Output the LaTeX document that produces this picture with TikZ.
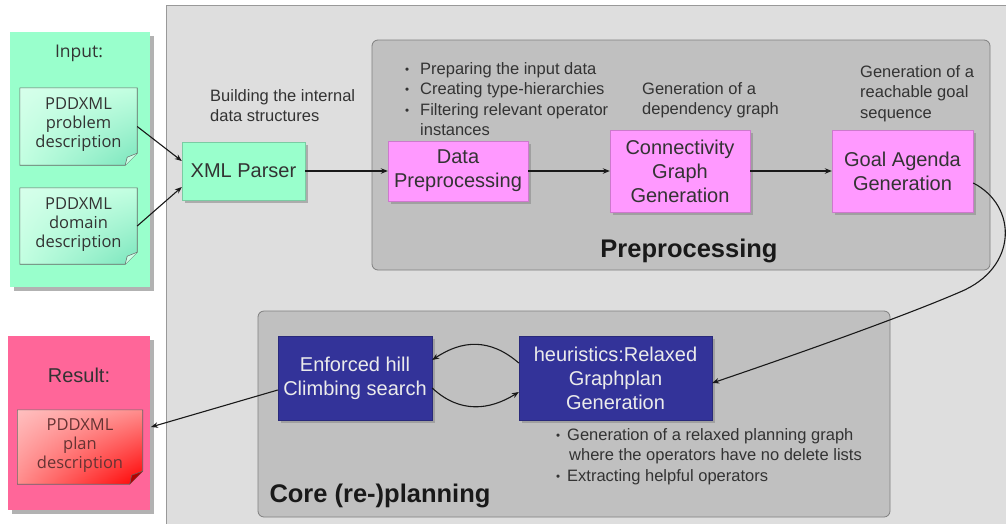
\documentclass[tikz,border=0pt]{standalone}
\usepackage{fontspec}
\setmainfont{Liberation Sans}
\newfontfamily\docfont{Open Sans}
\usetikzlibrary{arrows.meta,shadows,shadings}
\definecolor{outerbg}{HTML}{DEDEDE}
\definecolor{panelbg}{HTML}{C0C0C0}
\definecolor{panelbd}{HTML}{7F7F7F}
\definecolor{mint}{HTML}{99FFCC}
\definecolor{pinkbox}{HTML}{FF99FF}
\definecolor{navy}{HTML}{333399}
\definecolor{resultbg}{HTML}{FF6699}
\definecolor{txt}{HTML}{333333}
\tikzset{
  panel/.style={draw=panelbd, fill=panelbg, rounded corners=6pt, line width=0.8pt},
  procbox/.style={fill=pinkbox, draw=pinkbox!80!black, line width=0.4pt, text=txt, align=center,
    font=\fontsize{20}{24}\selectfont, inner sep=0pt,
    drop shadow={shadow xshift=2.5pt, shadow yshift=-2.5pt, fill=black!45, opacity=0.6}},
  parserbox/.style={procbox, fill=mint, draw=mint!80!black},
  corebox/.style={procbox, fill=navy, draw=navy!80!black, text=white!92!black},
  note/.style={anchor=north west, inner sep=0pt, align=left, text=txt,
    font=\fontsize{16.5}{20.5}\selectfont},
  doc/.style={inner sep=0pt, align=center, text=txt, font=\docfont\fontsize{16.5}{19}\selectfont},
  arr/.style={-{Stealth[length=7pt,width=5.5pt]}, line width=1.1pt, black!90},
}
\newcommand{\bul}{\makebox[15pt][l]{\raisebox{1pt}{\scalebox{0.7}{\textbullet}}}}
\begin{document}
\begin{tikzpicture}[x=1pt,y=-1pt]
\useasboundingbox (0,0) rectangle (1006,523);
\fill[white] (0,0) rectangle (1006,523);
% outer panel
\draw[fill=outerbg, draw=black!40, line width=1pt] (166,5) rectangle (1012,530);
% Input panel
\fill[black!30] (14,36) rectangle (154,291);
\node[fill=mint, minimum width=140pt, minimum height=255pt, inner sep=0pt] (input) at (80,159.5) {};
\node[text=txt, font=\docfont\fontsize{17.5}{20}\selectfont] (inlabel) at (79,53) {Input:};
% docs
\node[doc, minimum width=117pt, minimum height=77pt] (prob) at (78.5,126.5) {};
\node[doc, minimum width=117pt, minimum height=76pt] (dom) at (78.5,226) {};
% Result panel
\fill[black!30] (12,340) rectangle (154,514);
\node[fill=resultbg, minimum width=142pt, minimum height=174pt, inner sep=0pt] (result) at (79,423) {};
\node[text=txt, font=\fontsize{20}{24}\selectfont] (reslabel) at (79,375) {Result:};
\node[doc, minimum width=125pt, minimum height=74pt] (plan) at (80,447) {};
% doc shapes
\foreach \d in {prob, dom} {
  \shade[upper left=white!60!mint, upper right=white!40!mint, lower left=white!40!mint, lower right=mint!80!teal]
    (\d.north west) -- (\d.north east) -- ([yshift=12pt]\d.south east) -- ([xshift=-12pt]\d.south east) -- (\d.south west) -- cycle;
  \draw[black!60, line width=0.6pt]
    (\d.north west) -- (\d.north east) -- ([yshift=12pt]\d.south east) -- ([xshift=-12pt]\d.south east) -- (\d.south west) -- cycle;
  \draw[black!60, fill=white!50!mint, line width=0.5pt] ([yshift=12pt]\d.south east) -- ([xshift=-10pt,yshift=8pt]\d.south east) -- ([xshift=-12pt]\d.south east);
}
\node[doc] at ([yshift=1.5pt]prob) {PDDXML\\problem\\description};
\node[doc] at ([yshift=1.5pt]dom) {PDDXML\\domain\\description};
\shade[upper left=red!25!white, upper right=red!45!white, lower left=red!45!white, lower right=red]
  (plan.north west) -- (plan.north east) -- ([yshift=13pt]plan.south east) -- ([xshift=-13pt]plan.south east) -- (plan.south west) -- cycle;
\draw[black!60, line width=0.6pt]
  (plan.north west) -- (plan.north east) -- ([yshift=13pt]plan.south east) -- ([xshift=-13pt]plan.south east) -- (plan.south west) -- cycle;
\draw[black!60, fill=red!70!black, line width=0.5pt] ([yshift=13pt]plan.south east) -- ([xshift=-11pt,yshift=9pt]plan.south east) -- ([xshift=-13pt]plan.south east);
\node[doc, text=red!25!black!80] at ([yshift=1.5pt]plan) {PDDXML\\plan\\description};
% Panels
\draw[panel] (372,40) rectangle (990,270);
\node[font=\bfseries\fontsize{25.5}{30}\selectfont, text=black!90] (prelabel) at (689,251) {Preprocessing};
\draw[panel] (258,311) rectangle (890,517);
\node[font=\bfseries\fontsize{25.5}{30}\selectfont, text=black!90] (corelabel) at (380,496) {Core (re-)planning};
% Boxes
\node[parserbox, minimum width=123pt, minimum height=58pt] (xml) at (243.5,171) {XML Parser};
\node[procbox, minimum width=140pt, minimum height=60pt] (data) at (458,171) {Data\\Preprocessing};
\node[procbox, minimum width=140pt, minimum height=82pt] (conn) at (680,171) {Connectivity\\Graph\\Generation};
\node[procbox, minimum width=141pt, minimum height=82pt] (goal) at (902.5,171) {Goal Agenda\\Generation};
\node[corebox, minimum width=154pt, minimum height=84pt] (ehc) at (355,378) {Enforced hill\\Climbing search};
\node[corebox, minimum width=193pt, minimum height=84pt] (heur) at (615.5,378) {heuristics:Relaxed\\Graphplan\\Generation};
% Notes
\node[note] (n1) at (210,89.3) {Building the internal\\data structures};
\node[note] (n2) at (405,62.3) {\bul Preparing the input data\\\bul Creating type-hierarchies\\\bul Filtering relevant operator\\\hspace*{15pt}instances};
\node[note] (n3) at (642,82.3) {Generation of a\\dependency graph};
\node[note] (n4) at (860,65.3) {Generation of a\\reachable goal\\sequence};
\node[note] (n5) at (556,428.3) {\makebox[11pt][l]{\raisebox{1pt}{\scalebox{0.7}{\textbullet}}}Generation of a relaxed planning graph\\\hspace*{13pt}where the operators have no delete lists\\\makebox[11pt][l]{\raisebox{1pt}{\scalebox{0.7}{\textbullet}}}Extracting helpful operators};
% Connectors
\draw[arr] (prob.east) -- ([yshift=10pt]xml.west);
\draw[arr] (dom.east) -- ([yshift=-16pt]xml.west);
\draw[arr] (xml.east) -- (data.west);
\draw[arr] (data.east) -- (conn.west);
\draw[arr] (conn.east) -- (goal.west);
\draw[arr] ([yshift=-12pt]goal.east) .. controls (1018,206) and (1018,268) .. (960,292)
   .. controls (900,318) and (780,360) .. ([yshift=-5pt]heur.east);
\draw[arr] ([yshift=15pt]heur.west) .. controls (490,338) and (462,340) .. ([yshift=18pt]ehc.east);
\draw[arr] ([yshift=-10pt]ehc.east) .. controls (460,414) and (490,410) .. ([yshift=-14pt]heur.west);
\coordinate (resin) at (151,427);
\draw[arr] ([yshift=-12pt]ehc.west) -- (resin);
\end{tikzpicture}
\end{document}
